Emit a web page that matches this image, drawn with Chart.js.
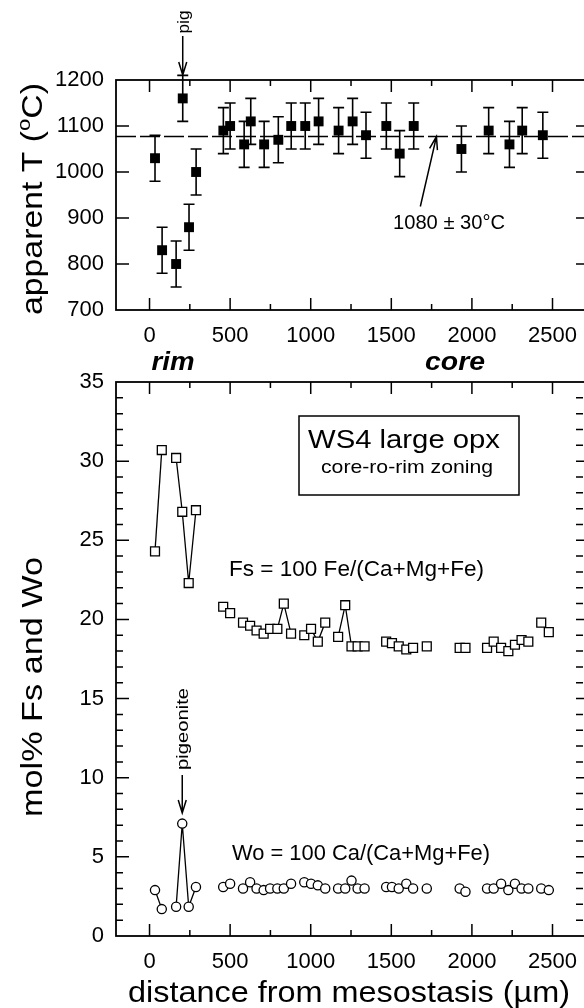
<!DOCTYPE html>
<html>
<head>
<meta charset="utf-8">
<script src="https://cdn.jsdelivr.net/npm/chart.js@4.4.1/dist/chart.umd.min.js"></script>
<style>
  html, body { margin: 0; padding: 0; background: #fff; overflow: hidden; }
  canvas { position: absolute; left: 0; top: 0; }
</style>
</head>
<body>
<canvas id="temp" width="600" height="1008"></canvas>
<canvas id="comp" width="600" height="1008"></canvas>
<script>
// top panel: apparent temperature along the traverse
const tDist = [34, 78, 165, 206, 245, 289, 458, 500, 587, 628, 711, 799, 879, 966, 1049,
  1173, 1260, 1343, 1469, 1552, 1639, 1935, 2104, 2233, 2312, 2440];
const tVal = [1030, 830, 800, 1160, 880, 1000, 1090, 1100, 1060, 1110, 1060, 1070, 1100, 1100, 1110,
  1090, 1110, 1080, 1100, 1040, 1100, 1050, 1090, 1060, 1090, 1080];
const tErr = [50, 50, 50, 50, 50, 50, 50, 50, 50, 50, 50, 50, 50, 50, 50,
  50, 50, 50, 50, 50, 50, 50, 50, 50, 50, 50];
const tMean = 1077;

// bottom panel: Fs and Wo (mol%) along the same traverse
const dist = [34, 76, 165, 203, 243, 288, 457, 500, 580, 624, 664, 708, 748, 793, 833, 878,
  960, 1002, 1044, 1090, 1170, 1214, 1253, 1291, 1334, 1468, 1504, 1546, 1593, 1635, 1720,
  1924, 1960, 2094, 2135, 2181, 2226, 2267, 2308, 2350, 2430, 2477];
const fs = [24.3, 30.7, 30.2, 26.8, 22.3, 26.9, 20.8, 20.4, 19.8, 19.6, 19.3, 19.1, 19.4, 19.4, 21.0, 19.1,
  19.0, 19.4, 18.6, 19.8, 18.9, 20.9, 18.3, 18.3, 18.3, 18.6, 18.5, 18.3, 18.1, 18.2, 18.3,
  18.2, 18.2, 18.2, 18.6, 18.2, 18.0, 18.4, 18.7, 18.6, 19.8, 19.2];
const wo = [2.9, 1.7, 1.85, 7.1, 1.85, 3.1, 3.1, 3.3, 3.0, 3.4, 3.0, 2.9, 3.0, 3.0, 3.0, 3.3,
  3.4, 3.3, 3.2, 3.0, 3.0, 3.0, 3.5, 3.0, 3.0, 3.1, 3.1, 3.0, 3.3, 3.0, 3.0,
  3.0, 2.8, 3.0, 3.0, 3.3, 2.9, 3.3, 3.0, 3.0, 3.0, 2.9];
// segments (start index) that are joined by a line
const fsLinks = [0, 2, 3, 4, 13, 14, 17, 18, 20, 21];
const woLinks = [0, 2, 3, 4];

const xTicks = [0, 500, 1000, 1500, 2000, 2500];
const tTicks = [700, 800, 900, 1000, 1100, 1200];
const molTicks = [0, 5, 10, 15, 20, 25, 30, 35];

const FONT = '"Liberation Sans", Arial, sans-serif';
Chart.defaults.font.family = FONT;
Chart.defaults.color = '#000';

function label(ctx, s, x, y, o) {
  ctx.save();
  ctx.font = `${o.style || ''} ${o.weight || ''} ${o.size}px ${FONT}`;
  const w = ctx.measureText(s).width;
  const k = o.len ? o.len / w : 1;
  ctx.translate(x, y);
  if (o.rot) ctx.rotate(o.rot);
  ctx.scale(k, 1);
  ctx.textAlign = o.align || 'center';
  ctx.textBaseline = 'alphabetic';
  ctx.fillStyle = '#000';
  ctx.fillText(s, 0, 0);
  ctx.restore();
}

function arrow(ctx, x0, y0, x1, y1, head, half) {
  const a = Math.atan2(y1 - y0, x1 - x0);
  ctx.save();
  ctx.strokeStyle = '#000';
  ctx.lineWidth = 1.5;
  ctx.beginPath();
  ctx.moveTo(x0, y0);
  ctx.lineTo(x1, y1);
  ctx.moveTo(x1 - head * Math.cos(a) + half * Math.sin(a), y1 - head * Math.sin(a) - half * Math.cos(a));
  ctx.lineTo(x1, y1);
  ctx.lineTo(x1 - head * Math.cos(a) - half * Math.sin(a), y1 - head * Math.sin(a) + half * Math.cos(a));
  ctx.stroke();
  ctx.restore();
}

// frame with inward ticks on all four sides
const frame = {
  id: 'frame',
  beforeDatasetsDraw(chart, args, o) {
    const { ctx, chartArea: a, scales: { x, y } } = chart;
    ctx.save();
    ctx.strokeStyle = '#000';
    ctx.lineWidth = 1.8;
    ctx.strokeRect(a.left, a.top, a.width, a.height);
    ctx.lineWidth = 1.5;
    ctx.beginPath();
    for (let v = 0; v <= x.max; v += 250) {
      const px = x.getPixelForValue(v);
      const len = v % 500 === 0 ? 12 : 6;
      ctx.moveTo(px, a.bottom); ctx.lineTo(px, a.bottom - len);
      ctx.moveTo(px, a.top); ctx.lineTo(px, a.top + len);
    }
    for (let v = y.min + o.minor; v < y.max; v += o.minor) {
      const py = y.getPixelForValue(v);
      const len = (v - y.min) % o.major === 0 ? 13 : 7;
      ctx.moveTo(a.left, py); ctx.lineTo(a.left + len, py);
      ctx.moveTo(576, py); ctx.lineTo(576 + len, py);
    }
    ctx.stroke();
    ctx.restore();
  }
};

function axes(yMin, yMax, yTicks, bottom) {
  return {
    x: {
      type: 'linear', min: -208, max: 2745,
      afterBuildTicks: s => { s.ticks = xTicks.map(v => ({ value: v })); },
      afterFit: s => { s.height = 1008 - bottom; },
      grid: { display: false, drawTicks: false },
      border: { display: false },
      ticks: { font: { size: 22 }, color: '#000', padding: 13, autoSkip: false, maxRotation: 0,
        callback: v => String(v) }
    },
    y: {
      type: 'linear', min: yMin, max: yMax,
      afterBuildTicks: s => { s.ticks = yTicks.map(v => ({ value: v })); },
      afterFit: s => { s.width = 116; },
      grid: { display: false, drawTicks: false },
      border: { display: false },
      ticks: { font: { size: 22 }, color: '#000', padding: 12, callback: v => String(v) }
    }
  };
}

// ---- top panel ----
const tempDecor = {
  id: 'tempDecor',
  beforeDatasetsDraw(chart) {
    const { ctx, chartArea: a, scales: { x, y } } = chart;
    ctx.save();
    ctx.strokeStyle = '#000';
    ctx.lineWidth = 1.5;
    ctx.setLineDash([20, 4]);
    ctx.beginPath();
    const ym = y.getPixelForValue(tMean);
    ctx.moveTo(a.left, ym); ctx.lineTo(a.right, ym);
    ctx.stroke();
    ctx.setLineDash([]);
    ctx.lineWidth = 1.6;
    ctx.beginPath();
    tDist.forEach((d, i) => {
      const px = x.getPixelForValue(d);
      const hi = y.getPixelForValue(tVal[i] + tErr[i]);
      const lo = y.getPixelForValue(tVal[i] - tErr[i]);
      ctx.moveTo(px, hi); ctx.lineTo(px, lo);
      ctx.moveTo(px - 5.5, hi); ctx.lineTo(px + 5.5, hi);
      ctx.moveTo(px - 5.5, lo); ctx.lineTo(px + 5.5, lo);
    });
    ctx.stroke();
    ctx.restore();
  },
  afterDraw(chart) {
    const { ctx, scales: { x, y } } = chart;
    // y title with superscript o
    ctx.save();
    ctx.translate(42, 199);
    ctx.rotate(-Math.PI / 2);
    const big = `29px ${FONT}`, sml = `19px ${FONT}`;
    ctx.font = big; const w1 = ctx.measureText('apparent T (').width;
    const w3 = ctx.measureText('C)').width;
    ctx.font = sml; const w2 = ctx.measureText('o').width;
    const tot = w1 + w2 + w3;
    ctx.scale(232 / tot, 1);
    ctx.fillStyle = '#000';
    ctx.textBaseline = 'alphabetic';
    ctx.textAlign = 'left';
    ctx.font = big; ctx.fillText('apparent T (', -tot / 2, 0);
    ctx.font = sml; ctx.fillText('o', -tot / 2 + w1, -12);
    ctx.font = big; ctx.fillText('C)', -tot / 2 + w1 + w2, 0);
    ctx.restore();

    label(ctx, 'rim', 173, 370, { size: 26, weight: 'bold', style: 'italic', len: 43 });
    label(ctx, 'core', 455, 370, { size: 26, weight: 'bold', style: 'italic', len: 60 });

    const px = x.getPixelForValue(tDist[3]);
    label(ctx, 'pig', px + 6, 22, { size: 17, rot: -Math.PI / 2, len: 23 });
    arrow(ctx, px, 36, px, 75, 13, 4);

    arrow(ctx, x.getPixelForValue(1680), y.getPixelForValue(925),
      x.getPixelForValue(1780), y.getPixelForValue(tMean), 13, 4);
    label(ctx, '1080 ± 30°C', 449, 229, { size: 20, len: 112 });
  }
};

new Chart(document.getElementById('temp'), {
  type: 'scatter',
  data: {
    datasets: [{
      data: tDist.map((d, i) => ({ x: d, y: tVal[i] })),
      pointStyle: 'rect', pointRadius: 7, backgroundColor: '#000', borderWidth: 0
    }]
  },
  options: {
    responsive: false, animation: false, devicePixelRatio: 1, events: [],
    layout: { padding: { top: 80, right: 8, left: 0, bottom: 0 } },
    scales: axes(700, 1200, tTicks, 310),
    plugins: { legend: { display: false }, tooltip: { enabled: false }, frame: { minor: 100, major: 100 } }
  },
  plugins: [frame, tempDecor]
});

// ---- bottom panel ----
const compDecor = {
  id: 'compDecor',
  afterDraw(chart) {
    const { ctx, scales: { x } } = chart;
    label(ctx, 'mol% Fs and Wo', 42, 687, { size: 29, rot: -Math.PI / 2, len: 260 });
    label(ctx, 'distance from mesostasis (µm)', 349, 1002, { size: 30, len: 442 });

    ctx.save();
    ctx.strokeStyle = '#000';
    ctx.lineWidth = 1.5;
    ctx.strokeRect(299, 416, 220, 79);
    ctx.restore();
    label(ctx, 'WS4 large opx', 404, 448, { size: 26, len: 192 });
    label(ctx, 'core-ro-rim zoning', 407, 473, { size: 19, len: 172 });

    label(ctx, 'Fs = 100 Fe/(Ca+Mg+Fe)', 229, 576, { size: 22, align: 'left', len: 255 });
    label(ctx, 'Wo = 100 Ca/(Ca+Mg+Fe)', 232, 860, { size: 22, align: 'left', len: 258 });

    const px = x.getPixelForValue(dist[3]);
    label(ctx, 'pigeonite', px + 6, 729, { size: 17, rot: -Math.PI / 2, len: 82 });
    arrow(ctx, px, 775, px, 813, 13, 4);
  }
};

const seg = links => ({ borderColor: c => links.includes(c.p0DataIndex) ? '#000' : 'rgba(0,0,0,0)' });

new Chart(document.getElementById('comp'), {
  type: 'scatter',
  data: {
    datasets: [{
      data: dist.map((d, i) => ({ x: d, y: fs[i] })),
      showLine: true, borderColor: '#000', borderWidth: 1.3, segment: seg(fsLinks),
      pointStyle: 'rect', pointRadius: 6.3, pointBackgroundColor: '#fff',
      pointBorderColor: '#000', pointBorderWidth: 1.3
    }, {
      data: dist.map((d, i) => ({ x: d, y: wo[i] })),
      showLine: true, borderColor: '#000', borderWidth: 1.3, segment: seg(woLinks),
      pointStyle: 'circle', pointRadius: 4.6, pointBackgroundColor: '#fff',
      pointBorderColor: '#000', pointBorderWidth: 1.3
    }]
  },
  options: {
    responsive: false, animation: false, devicePixelRatio: 1, events: [],
    layout: { padding: { top: 382, right: 8, left: 0, bottom: 0 } },
    scales: axes(0, 35, molTicks, 936),
    plugins: { legend: { display: false }, tooltip: { enabled: false }, frame: { minor: 1, major: 5 } }
  },
  plugins: [frame, compDecor]
});
</script>
</body>
</html>
